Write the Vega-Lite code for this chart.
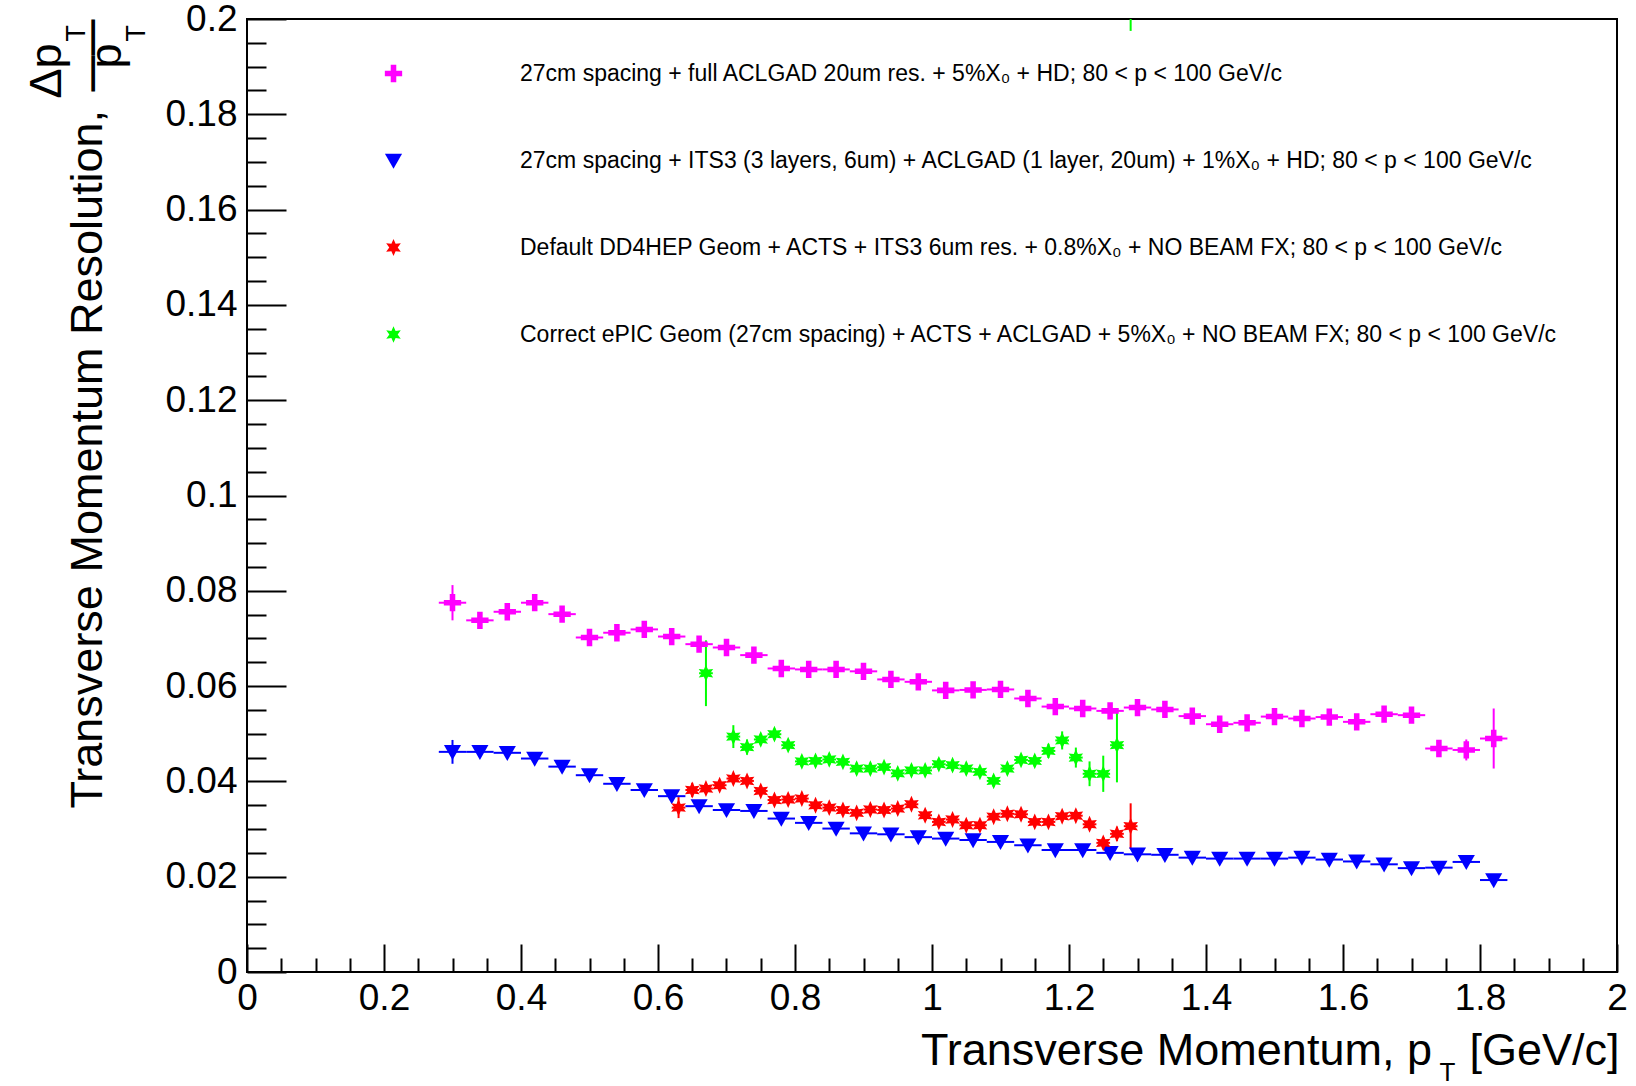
{
  "$schema": "https://vega.github.io/schema/vega-lite/v6.json",
  "width": 1370,
  "height": 953,
  "autosize": "none",
  "padding": {"left": 247, "top": 19, "right": 19, "bottom": 114},
  "background": "white",
  "config": {
    "font": "Liberation Sans",
    "view": {"stroke": "black", "strokeWidth": 2},
    "axis": {"domain": false, "grid": false, "tickColor": "black", "tickWidth": 2, "labelColor": "black", "titleColor": "black", "labelFont": "Liberation Sans", "titleFont": "Liberation Sans", "titleFontWeight": "normal"}
  },
  "data": {"values": [
    {"s":"A","x":0.30,"y":0.0775,"ye":0.0037,"xe":0.02},
    {"s":"A","x":0.34,"y":0.0738,"ye":0.0012,"xe":0.02},
    {"s":"A","x":0.38,"y":0.0756,"ye":0.0010,"xe":0.02},
    {"s":"A","x":0.42,"y":0.0775,"ye":0.0010,"xe":0.02},
    {"s":"A","x":0.46,"y":0.0751,"ye":0.0010,"xe":0.02},
    {"s":"A","x":0.50,"y":0.0702,"ye":0.0010,"xe":0.02},
    {"s":"A","x":0.54,"y":0.0712,"ye":0.0010,"xe":0.02},
    {"s":"A","x":0.58,"y":0.0719,"ye":0.0010,"xe":0.02},
    {"s":"A","x":0.62,"y":0.0704,"ye":0.0010,"xe":0.02},
    {"s":"A","x":0.66,"y":0.0688,"ye":0.0010,"xe":0.02},
    {"s":"A","x":0.70,"y":0.0681,"ye":0.0010,"xe":0.02},
    {"s":"A","x":0.74,"y":0.0665,"ye":0.0010,"xe":0.02},
    {"s":"A","x":0.78,"y":0.0637,"ye":0.0010,"xe":0.02},
    {"s":"A","x":0.82,"y":0.0635,"ye":0.0010,"xe":0.02},
    {"s":"A","x":0.86,"y":0.0635,"ye":0.0010,"xe":0.02},
    {"s":"A","x":0.90,"y":0.0631,"ye":0.0010,"xe":0.02},
    {"s":"A","x":0.94,"y":0.0614,"ye":0.0010,"xe":0.02},
    {"s":"A","x":0.98,"y":0.0609,"ye":0.0010,"xe":0.02},
    {"s":"A","x":1.02,"y":0.0591,"ye":0.0010,"xe":0.02},
    {"s":"A","x":1.06,"y":0.0592,"ye":0.0010,"xe":0.02},
    {"s":"A","x":1.10,"y":0.0593,"ye":0.0010,"xe":0.02},
    {"s":"A","x":1.14,"y":0.0574,"ye":0.0010,"xe":0.02},
    {"s":"A","x":1.18,"y":0.0557,"ye":0.0010,"xe":0.02},
    {"s":"A","x":1.22,"y":0.0553,"ye":0.0010,"xe":0.02},
    {"s":"A","x":1.26,"y":0.0548,"ye":0.0010,"xe":0.02},
    {"s":"A","x":1.30,"y":0.0555,"ye":0.0010,"xe":0.02},
    {"s":"A","x":1.34,"y":0.0551,"ye":0.0010,"xe":0.02},
    {"s":"A","x":1.38,"y":0.0537,"ye":0.0010,"xe":0.02},
    {"s":"A","x":1.42,"y":0.0520,"ye":0.0010,"xe":0.02},
    {"s":"A","x":1.46,"y":0.0523,"ye":0.0010,"xe":0.02},
    {"s":"A","x":1.50,"y":0.0536,"ye":0.0010,"xe":0.02},
    {"s":"A","x":1.54,"y":0.0532,"ye":0.0010,"xe":0.02},
    {"s":"A","x":1.58,"y":0.0535,"ye":0.0010,"xe":0.02},
    {"s":"A","x":1.62,"y":0.0525,"ye":0.0010,"xe":0.02},
    {"s":"A","x":1.66,"y":0.0541,"ye":0.0010,"xe":0.02},
    {"s":"A","x":1.70,"y":0.0539,"ye":0.0010,"xe":0.02},
    {"s":"A","x":1.74,"y":0.0469,"ye":0.0012,"xe":0.02},
    {"s":"A","x":1.78,"y":0.0466,"ye":0.0022,"xe":0.02},
    {"s":"A","x":1.82,"y":0.0490,"ye":0.0063,"xe":0.02},
    {"s":"B","x":0.30,"y":0.0462,"ye":0.0025,"xe":0.02},
    {"s":"B","x":0.34,"y":0.0462,"ye":0.0008,"xe":0.02},
    {"s":"B","x":0.38,"y":0.0460,"ye":0.0008,"xe":0.02},
    {"s":"B","x":0.42,"y":0.0448,"ye":0.0008,"xe":0.02},
    {"s":"B","x":0.46,"y":0.0431,"ye":0.0008,"xe":0.02},
    {"s":"B","x":0.50,"y":0.0413,"ye":0.0008,"xe":0.02},
    {"s":"B","x":0.54,"y":0.0395,"ye":0.0008,"xe":0.02},
    {"s":"B","x":0.58,"y":0.0382,"ye":0.0008,"xe":0.02},
    {"s":"B","x":0.62,"y":0.0369,"ye":0.0008,"xe":0.02},
    {"s":"B","x":0.66,"y":0.0348,"ye":0.0008,"xe":0.02},
    {"s":"B","x":0.70,"y":0.0340,"ye":0.0008,"xe":0.02},
    {"s":"B","x":0.74,"y":0.0338,"ye":0.0008,"xe":0.02},
    {"s":"B","x":0.78,"y":0.0322,"ye":0.0008,"xe":0.02},
    {"s":"B","x":0.82,"y":0.0313,"ye":0.0008,"xe":0.02},
    {"s":"B","x":0.86,"y":0.0301,"ye":0.0008,"xe":0.02},
    {"s":"B","x":0.90,"y":0.0291,"ye":0.0008,"xe":0.02},
    {"s":"B","x":0.94,"y":0.0289,"ye":0.0008,"xe":0.02},
    {"s":"B","x":0.98,"y":0.0283,"ye":0.0008,"xe":0.02},
    {"s":"B","x":1.02,"y":0.0280,"ye":0.0008,"xe":0.02},
    {"s":"B","x":1.06,"y":0.0277,"ye":0.0008,"xe":0.02},
    {"s":"B","x":1.10,"y":0.0273,"ye":0.0008,"xe":0.02},
    {"s":"B","x":1.14,"y":0.0266,"ye":0.0008,"xe":0.02},
    {"s":"B","x":1.18,"y":0.0256,"ye":0.0008,"xe":0.02},
    {"s":"B","x":1.22,"y":0.0256,"ye":0.0008,"xe":0.02},
    {"s":"B","x":1.26,"y":0.0250,"ye":0.0008,"xe":0.02},
    {"s":"B","x":1.30,"y":0.0247,"ye":0.0008,"xe":0.02},
    {"s":"B","x":1.34,"y":0.0246,"ye":0.0008,"xe":0.02},
    {"s":"B","x":1.38,"y":0.0240,"ye":0.0008,"xe":0.02},
    {"s":"B","x":1.42,"y":0.0238,"ye":0.0008,"xe":0.02},
    {"s":"B","x":1.46,"y":0.0238,"ye":0.0008,"xe":0.02},
    {"s":"B","x":1.50,"y":0.0238,"ye":0.0008,"xe":0.02},
    {"s":"B","x":1.54,"y":0.0240,"ye":0.0008,"xe":0.02},
    {"s":"B","x":1.58,"y":0.0236,"ye":0.0008,"xe":0.02},
    {"s":"B","x":1.62,"y":0.0232,"ye":0.0008,"xe":0.02},
    {"s":"B","x":1.66,"y":0.0226,"ye":0.0008,"xe":0.02},
    {"s":"B","x":1.70,"y":0.0218,"ye":0.0008,"xe":0.02},
    {"s":"B","x":1.74,"y":0.0219,"ye":0.0008,"xe":0.02},
    {"s":"B","x":1.78,"y":0.0231,"ye":0.0008,"xe":0.02},
    {"s":"B","x":1.82,"y":0.0193,"ye":0.0010,"xe":0.02},
    {"s":"C","x":0.63,"y":0.0345,"ye":0.0022,"xe":0.01},
    {"s":"C","x":0.65,"y":0.0382,"ye":0.0015,"xe":0.01},
    {"s":"C","x":0.67,"y":0.0385,"ye":0.0010,"xe":0.01},
    {"s":"C","x":0.69,"y":0.0392,"ye":0.0010,"xe":0.01},
    {"s":"C","x":0.71,"y":0.0406,"ye":0.0010,"xe":0.01},
    {"s":"C","x":0.73,"y":0.0401,"ye":0.0010,"xe":0.01},
    {"s":"C","x":0.75,"y":0.0380,"ye":0.0010,"xe":0.01},
    {"s":"C","x":0.77,"y":0.0361,"ye":0.0010,"xe":0.01},
    {"s":"C","x":0.79,"y":0.0362,"ye":0.0010,"xe":0.01},
    {"s":"C","x":0.81,"y":0.0364,"ye":0.0010,"xe":0.01},
    {"s":"C","x":0.83,"y":0.0350,"ye":0.0010,"xe":0.01},
    {"s":"C","x":0.85,"y":0.0345,"ye":0.0010,"xe":0.01},
    {"s":"C","x":0.87,"y":0.0340,"ye":0.0010,"xe":0.01},
    {"s":"C","x":0.89,"y":0.0334,"ye":0.0010,"xe":0.01},
    {"s":"C","x":0.91,"y":0.0341,"ye":0.0010,"xe":0.01},
    {"s":"C","x":0.93,"y":0.0340,"ye":0.0010,"xe":0.01},
    {"s":"C","x":0.95,"y":0.0343,"ye":0.0010,"xe":0.01},
    {"s":"C","x":0.97,"y":0.0352,"ye":0.0010,"xe":0.01},
    {"s":"C","x":0.99,"y":0.0329,"ye":0.0010,"xe":0.01},
    {"s":"C","x":1.01,"y":0.0315,"ye":0.0010,"xe":0.01},
    {"s":"C","x":1.03,"y":0.0320,"ye":0.0010,"xe":0.01},
    {"s":"C","x":1.05,"y":0.0308,"ye":0.0010,"xe":0.01},
    {"s":"C","x":1.07,"y":0.0308,"ye":0.0010,"xe":0.01},
    {"s":"C","x":1.09,"y":0.0326,"ye":0.0010,"xe":0.01},
    {"s":"C","x":1.11,"y":0.0332,"ye":0.0010,"xe":0.01},
    {"s":"C","x":1.13,"y":0.0331,"ye":0.0010,"xe":0.01},
    {"s":"C","x":1.15,"y":0.0315,"ye":0.0010,"xe":0.01},
    {"s":"C","x":1.17,"y":0.0315,"ye":0.0010,"xe":0.01},
    {"s":"C","x":1.19,"y":0.0327,"ye":0.0010,"xe":0.01},
    {"s":"C","x":1.21,"y":0.0328,"ye":0.0010,"xe":0.01},
    {"s":"C","x":1.23,"y":0.0310,"ye":0.0010,"xe":0.01},
    {"s":"C","x":1.25,"y":0.0271,"ye":0.0012,"xe":0.01},
    {"s":"C","x":1.27,"y":0.0290,"ye":0.0015,"xe":0.01},
    {"s":"C","x":1.29,"y":0.0306,"ye":0.0048,"xe":0.01},
    {"s":"D","x":0.67,"y":0.0627,"ye":0.0069,"xe":0.01},
    {"s":"D","x":0.71,"y":0.0494,"ye":0.0024,"xe":0.01},
    {"s":"D","x":0.73,"y":0.0472,"ye":0.0016,"xe":0.01},
    {"s":"D","x":0.75,"y":0.0488,"ye":0.0012,"xe":0.01},
    {"s":"D","x":0.77,"y":0.0499,"ye":0.0012,"xe":0.01},
    {"s":"D","x":0.79,"y":0.0476,"ye":0.0012,"xe":0.01},
    {"s":"D","x":0.81,"y":0.0442,"ye":0.0012,"xe":0.01},
    {"s":"D","x":0.83,"y":0.0443,"ye":0.0012,"xe":0.01},
    {"s":"D","x":0.85,"y":0.0446,"ye":0.0012,"xe":0.01},
    {"s":"D","x":0.87,"y":0.0441,"ye":0.0012,"xe":0.01},
    {"s":"D","x":0.89,"y":0.0427,"ye":0.0012,"xe":0.01},
    {"s":"D","x":0.91,"y":0.0427,"ye":0.0012,"xe":0.01},
    {"s":"D","x":0.93,"y":0.0430,"ye":0.0012,"xe":0.01},
    {"s":"D","x":0.95,"y":0.0417,"ye":0.0012,"xe":0.01},
    {"s":"D","x":0.97,"y":0.0423,"ye":0.0012,"xe":0.01},
    {"s":"D","x":0.99,"y":0.0423,"ye":0.0012,"xe":0.01},
    {"s":"D","x":1.01,"y":0.0436,"ye":0.0012,"xe":0.01},
    {"s":"D","x":1.03,"y":0.0434,"ye":0.0012,"xe":0.01},
    {"s":"D","x":1.05,"y":0.0427,"ye":0.0012,"xe":0.01},
    {"s":"D","x":1.07,"y":0.0420,"ye":0.0012,"xe":0.01},
    {"s":"D","x":1.09,"y":0.0401,"ye":0.0012,"xe":0.01},
    {"s":"D","x":1.11,"y":0.0427,"ye":0.0012,"xe":0.01},
    {"s":"D","x":1.13,"y":0.0445,"ye":0.0012,"xe":0.01},
    {"s":"D","x":1.15,"y":0.0443,"ye":0.0012,"xe":0.01},
    {"s":"D","x":1.17,"y":0.0464,"ye":0.0015,"xe":0.01},
    {"s":"D","x":1.19,"y":0.0486,"ye":0.0019,"xe":0.01},
    {"s":"D","x":1.21,"y":0.0450,"ye":0.0021,"xe":0.01},
    {"s":"D","x":1.23,"y":0.0416,"ye":0.0026,"xe":0.01},
    {"s":"D","x":1.25,"y":0.0416,"ye":0.0038,"xe":0.01},
    {"s":"D","x":1.27,"y":0.0476,"ye":0.0078,"xe":0.01},
    {"s":"D","x":1.29,"y":0.2200,"ye":0.0225,"xe":0.01}
  ]},
  "layer": [
    {
      "mark": {"type": "errorbar", "rule": {"strokeWidth": 2, "clip": true}},
      "encoding": {
        "x": {"field": "x", "type": "quantitative", "scale": {"domain": [0, 2], "nice": false, "zero": false},
          "axis": {"orient": "bottom", "values": [0,0.2,0.4,0.6,0.8,1,1.2,1.4,1.6,1.8,2], "tickSize": -28, "labelFontSize": 37, "labelPadding": 36, "labelFlush": false, "labelOverlap": false, "format": "~g",
            "title": "Transverse Momentum, p\u00a0\u00a0 [GeV/c]", "titleFontSize": 45, "titleAngle": 0, "titleAlign": "right", "titleBaseline": "alphabetic", "titleX": 1372, "titleY": 92}},
        "y": {"field": "y", "type": "quantitative", "scale": {"domain": [0, 0.2], "nice": false},
          "axis": {"orient": "left", "values": [0,0.02,0.04,0.06,0.08,0.1,0.12,0.14,0.16,0.18,0.2], "tickSize": -39, "labelFontSize": 37, "labelPadding": 49, "labelOverlap": false, "labelFlush": false, "format": "~g",
            "title": "Transverse Momentum Resolution,", "titleFontSize": 45, "titleAngle": -90, "titleAlign": "left", "titleBaseline": "alphabetic", "titleX": -146, "titleY": 789}},
        "yError": {"field": "ye"},
        "color": {"field": "s", "type": "nominal", "scale": {"domain": ["A","B","C","D"], "range": ["#ff00ff","#0000ff","#ff0000","#00ff00"]}, "legend": null}
      }
    },
    {
      "mark": {"type": "errorbar", "rule": {"strokeWidth": 2, "clip": true}},
      "encoding": {
        "x": {"field": "x", "type": "quantitative", "scale": {"domain": [0, 2], "nice": false, "zero": false},
          "axis": {"orient": "bottom", "values": [0.05,0.1,0.15,0.25,0.3,0.35,0.45,0.5,0.55,0.65,0.7,0.75,0.85,0.9,0.95,1.05,1.1,1.15,1.25,1.3,1.35,1.45,1.5,1.55,1.65,1.7,1.75,1.85,1.9,1.95], "tickSize": -14, "labels": false,
            "title": "T", "titleFontSize": 26, "titleAngle": 0, "titleAlign": "center", "titleBaseline": "alphabetic", "titleX": 1200, "titleY": 108}},
        "xError": {"field": "xe"},
        "y": {"field": "y", "type": "quantitative", "scale": {"domain": [0, 0.2], "nice": false},
          "axis": {"orient": "left", "values": [0.005,0.01,0.015,0.025,0.03,0.035,0.045,0.05,0.055,0.065,0.07,0.075,0.085,0.09,0.095,0.105,0.11,0.115,0.125,0.13,0.135,0.145,0.15,0.155,0.165,0.17,0.175,0.185,0.19,0.195], "tickSize": -19, "labels": false,
            "title": ["\u0394p", "p"], "titleFontSize": 45, "titleLineHeight": 60, "titleAngle": -90, "titleAlign": "right", "titleBaseline": "alphabetic", "titleX": -187, "titleY": 24}},
        "color": {"field": "s", "type": "nominal", "scale": {"domain": ["A","B","C","D"], "range": ["#ff00ff","#0000ff","#ff0000","#00ff00"]}, "legend": null}
      }
    },
    {
      "mark": {"type": "point", "filled": true, "opacity": 1, "strokeWidth": 0, "clip": true},
      "encoding": {
        "x": {"field": "x", "type": "quantitative", "scale": {"domain": [0, 2], "nice": false, "zero": false},
          "axis": {"orient": "bottom", "ticks": false, "labels": false,
            "title": "\u2014\u2014", "titleFontSize": 36, "titleFontWeight": "bold", "titleAngle": -90, "titleAlign": "center", "titleBaseline": "middle", "titleX": -156, "titleY": -917}},
        "y": {"field": "y", "type": "quantitative", "scale": {"domain": [0, 0.2], "nice": false},
          "axis": {"orient": "left", "ticks": false, "labels": false,
            "title": ["T", "T"], "titleFontSize": 27, "titleLineHeight": 60, "titleAngle": -90, "titleAlign": "left", "titleBaseline": "alphabetic", "titleX": -163, "titleY": 22}},
        "size": {"field": "s", "type": "nominal", "scale": {"domain": ["A","B","C","D"], "range": [300, 280, 250, 250]}, "legend": null},
        "color": {"field": "s", "type": "nominal", "scale": {"domain": ["A","B","C","D"], "range": ["#ff00ff","#0000ff","#ff0000","#00ff00"]},
          "legend": {"orient": "none", "legendX": 135, "legendY": 43, "title": null, "padding": 0, "labelFontSize": 23, "labelFont": "Liberation Sans", "labelColor": "black", "labelLimit": 1400, "labelOffset": 115, "rowPadding": 63, "symbolSize": 230, "symbolStrokeWidth": 0,
            "labelExpr": "datum.label == 'A' ? '27cm spacing + full ACLGAD 20um res. + 5%X\u2080 + HD; 80 < p < 100 GeV/c' : datum.label == 'B' ? '27cm spacing + ITS3 (3 layers, 6um) + ACLGAD (1 layer, 20um) + 1%X\u2080 + HD; 80 < p < 100 GeV/c' : datum.label == 'C' ? 'Default DD4HEP Geom + ACTS + ITS3 6um res. + 0.8%X\u2080 + NO BEAM FX; 80 < p < 100 GeV/c' : 'Correct ePIC Geom (27cm spacing) + ACTS + ACLGAD + 5%X\u2080 + NO BEAM FX; 80 < p < 100 GeV/c'"}},
        "shape": {"field": "s", "type": "nominal", "scale": {"domain": ["A","B","C","D"], "range": [
            "M-0.32,-1L0.32,-1L0.32,-0.32L1,-0.32L1,0.32L0.32,0.32L0.32,1L-0.32,1L-0.32,0.32L-1,0.32L-1,-0.32L-0.32,-0.32Z",
            "M-1,-0.8L1,-0.8L0,0.95Z",
            "M0,-1L0.25,-0.433L0.866,-0.5L0.5,0L0.866,0.5L0.25,0.433L0,1L-0.25,0.433L-0.866,0.5L-0.5,0L-0.866,-0.5L-0.25,-0.433Z",
            "M0,-1L0.25,-0.433L0.866,-0.5L0.5,0L0.866,0.5L0.25,0.433L0,1L-0.25,0.433L-0.866,0.5L-0.5,0L-0.866,-0.5L-0.25,-0.433Z"]},
          "legend": {"orient": "none", "legendX": 135, "legendY": 43, "title": null, "padding": 0, "labelFontSize": 23, "labelFont": "Liberation Sans", "labelColor": "black", "labelLimit": 1400, "labelOffset": 115, "rowPadding": 63, "symbolSize": 230, "symbolStrokeWidth": 0,
            "labelExpr": "datum.label == 'A' ? '27cm spacing + full ACLGAD 20um res. + 5%X\u2080 + HD; 80 < p < 100 GeV/c' : datum.label == 'B' ? '27cm spacing + ITS3 (3 layers, 6um) + ACLGAD (1 layer, 20um) + 1%X\u2080 + HD; 80 < p < 100 GeV/c' : datum.label == 'C' ? 'Default DD4HEP Geom + ACTS + ITS3 6um res. + 0.8%X\u2080 + NO BEAM FX; 80 < p < 100 GeV/c' : 'Correct ePIC Geom (27cm spacing) + ACTS + ACLGAD + 5%X\u2080 + NO BEAM FX; 80 < p < 100 GeV/c'"}}
      }
    }
  ],
  "resolve": {"axis": {"x": "independent", "y": "independent"}, "legend": {"color": "independent", "shape": "independent", "size": "independent"}}
}
